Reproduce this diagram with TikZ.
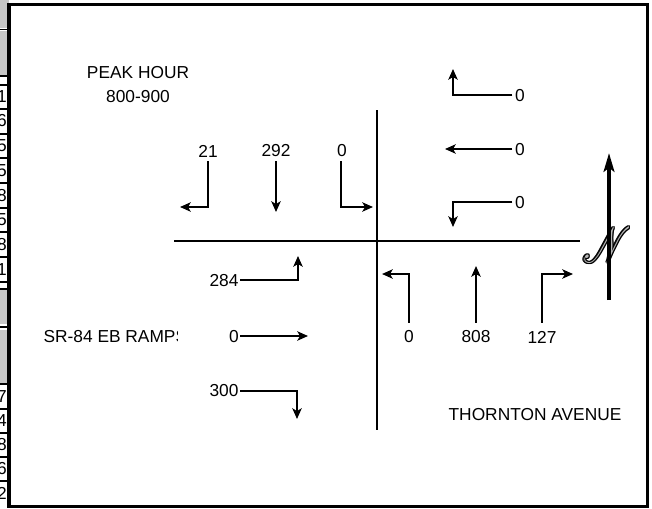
\documentclass[tikz,border=0pt]{standalone}
\usepackage{fontspec}
\setmainfont{Liberation Sans}
\usepackage{mathrsfs}
\usetikzlibrary{arrows.meta}
\newcommand{\bigN}{\scalebox{1.15}[1.5]{$\mathscr{N}$}}
\begin{document}
\begin{tikzpicture}[x=0.75pt,y=-0.75pt,
  lbl/.style={font=\fontsize{13}{15}\selectfont, inner sep=1pt},
  road/.style={line width=1.5pt},
  mv/.style={line width=1.5pt, -{Stealth[length=8pt,width=7pt,inset=2pt]}},
  cell/.style={line width=0.8pt},
  gcell/.style={fill=gray!45},
  nsym/.style={font=\fontsize{42}{42}\selectfont, inner sep=0pt},
]
\useasboundingbox (0,0) rectangle (652,508);
% ---------- left table strip ----------
\fill[gcell] (0,0) rectangle (9,28);
\fill[gcell] (0,31) rectangle (9,76);
\fill[gcell] (0,290) rectangle (9,324);
\fill[gcell] (0,330) rectangle (9,384);
\foreach \yy in {29.5,76,85,109,134,158,183,208,232,257,282,289,327,384,409,433,457,481} {
  \draw[cell] (0,\yy) -- (9,\yy);
}
\begin{scope}
\clip (0,0) rectangle (8,508);
\foreach \yy/\dd in {97/1,121/6,146/5,171/5,196/8,220/5,245/8,270/1,397/7,421/4,445/8,469/6,493/2} {
  \node[lbl,anchor=east,inner sep=0pt] at (7,\yy) {\dd};
}
\end{scope}
% ---------- frame ----------
\draw[line width=2.3pt] (9,4.5) -- (647.5,4.5) -- (647.5,506.5) -- (9,506.5) -- cycle;
% ---------- titles ----------
\node[lbl] (peak) at (138,73) {PEAK HOUR};
\node[lbl] (time) at (138,97) {800-900};
\begin{scope}
\clip (20,320) rectangle (177.5,355);
\node[lbl,anchor=west] (ramps) at (42,337) {SR-84 EB RAMPS};
\end{scope}
\node[lbl] (thornton) at (535,415) {THORNTON AVENUE};
% ---------- roads ----------
\coordinate (hw) at (174,241);
\coordinate (he) at (580,241);
\coordinate (vn) at (377,110);
\coordinate (vs) at (377,430);
\draw[road] (hw) -- (he);
\draw[road] (vn) -- (vs);
% ---------- southbound (top left) ----------
\node[lbl] (sbL) at (208,151) {21};
\node[lbl] (sbT) at (276,151) {292};
\node[lbl] (sbR) at (342,151) {0};
\coordinate (sbLc) at (208,207);
\coordinate (sbLe) at (180,207);
\coordinate (sbTe) at (276,212);
\coordinate (sbRc) at (341,207);
\coordinate (sbRe) at (373,207);
\draw[mv,shorten <=2pt] (sbL.south) -- (sbLc) -- (sbLe);
\draw[mv,shorten <=2pt] (sbT.south) -- (sbTe);
\draw[mv,shorten <=2pt] (sbR.south -| sbRc) -- (sbRc) -- (sbRe);
% ---------- westbound (top right) ----------
\node[lbl] (wbR) at (520,96) {0};
\node[lbl] (wbT) at (520,150) {0};
\node[lbl] (wbL) at (520,203) {0};
\coordinate (wbRc) at (453,95);
\coordinate (wbRe) at (453,69);
\coordinate (wbTe) at (445,149);
\coordinate (wbLc) at (453,202);
\coordinate (wbLe) at (453,227);
\draw[mv,shorten <=1pt] (wbR.west |- wbRc) -- (wbRc) -- (wbRe);
\draw[mv,shorten <=1pt] (wbT.west |- wbTe) -- (wbTe);
\draw[mv,shorten <=1pt] (wbL.west |- wbLc) -- (wbLc) -- (wbLe);
% ---------- northbound (bottom right) ----------
\node[lbl] (nbL) at (409,337) {0};
\node[lbl] (nbT) at (476,337) {808};
\node[lbl] (nbR) at (542,337) {127};
\coordinate (nbLc) at (409,274);
\coordinate (nbLe) at (382,274);
\coordinate (nbTe) at (476,266);
\coordinate (nbRc) at (542,274);
\coordinate (nbRe) at (573,274);
\draw[mv,shorten <=5pt] (nbL.north) -- (nbLc) -- (nbLe);
\draw[mv,shorten <=5pt] (nbT.north) -- (nbTe);
\draw[mv,shorten <=5pt] (nbR.north) -- (nbRc) -- (nbRe);
% ---------- eastbound (bottom left) ----------
\node[lbl] (ebL) at (224,281) {284};
\node[lbl] (ebT) at (234,337) {0};
\node[lbl] (ebR) at (224,391) {300};
\coordinate (ebLc) at (298,280);
\coordinate (ebLe) at (298,256);
\coordinate (ebTe) at (308,336);
\coordinate (ebRc) at (297,391);
\coordinate (ebRe) at (297,419);
\draw[mv] (ebL.east |- ebLc) -- (ebLc) -- (ebLe);
\draw[mv] (ebT.east |- ebTe) -- (ebTe);
\draw[mv] (ebR.east |- ebRc) -- (ebRc) -- (ebRe);
% ---------- north arrow ----------
\coordinate (nc) at (607,245);
\foreach \dx/\dy in {-1/0,1/0,0/-1,0/1,-0.7/-0.7,0.7/0.7,-0.7/0.7,0.7/-0.7} {
  \node[nsym,text=black,xshift=\dx pt,yshift=\dy pt] at (nc) {\bigN};
}
\node[nsym,text=gray!55] (nsym) at (nc) {\bigN};
\coordinate (ntail) at (609,300);
\coordinate (ntip) at (609,153);
\draw[line width=3pt,-{Stealth[length=14pt,width=8pt,inset=3pt]}] (ntail) -- (ntip);
\end{tikzpicture}
\end{document}
